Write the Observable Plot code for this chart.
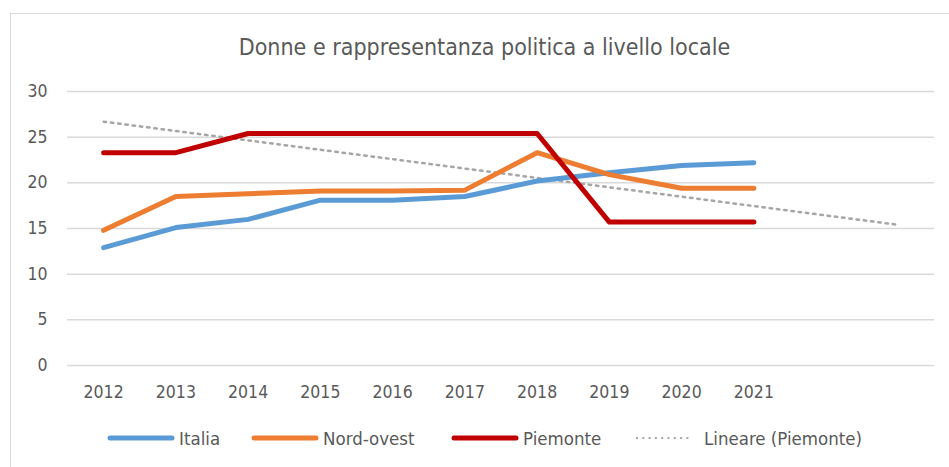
<!DOCTYPE html>
<html>
<head>
<meta charset="utf-8">
<script src="https://cdn.jsdelivr.net/npm/d3@7"></script>
<script src="https://cdn.jsdelivr.net/npm/@observablehq/plot@0.6"></script>
<style>
  html, body { margin: 0; padding: 0; background: #fff; }
  body { width: 949px; height: 467px; position: relative; overflow: hidden;
         font-family: "Liberation Sans Narrow", "DejaVu Sans Condensed", "Liberation Sans", sans-serif; color: #595959; }
  #frame { position: absolute; left: 10px; top: 13px; width: 960px; height: 480px;
           border-left: 1.5px solid #d9d9d9; border-top: 1.5px solid #d9d9d9; }
  #title { position: absolute; left: 10px; width: 949px; top: 33px; text-align: center;
           font-size: 23px; line-height: 28px; color: #595959; white-space: nowrap; }
  #chart { position: absolute; left: 0; top: 70px; }
  .leg { position: absolute; top: 428px; height: 20px; display: flex; align-items: center;
         font-size: 18.5px; color: #595959; }
  .leg svg { margin-right: 4px; }
</style>
</head>
<body>
<div id="frame"></div>
<div id="title">Donne e rappresentanza politica a livello locale</div>
<div id="chart"></div>
<div id="legend"></div>
<script>
const years = [2012, 2013, 2014, 2015, 2016, 2017, 2018, 2019, 2020, 2021];
const italia = [12.9, 15.1, 16.0, 18.1, 18.1, 18.5, 20.2, 21.1, 21.9, 22.2];
const nordOvest = [14.8, 18.5, 18.8, 19.1, 19.1, 19.2, 23.3, 20.9, 19.4, 19.4];
const piemonte = [23.3, 23.3, 25.4, 25.4, 25.4, 25.4, 25.4, 15.7, 15.7, 15.7];
const trendYears = [2012, 2023];
const trendValues = [26.7, 15.4];
const yTicks = [0, 5, 10, 15, 20, 25, 30];
const seriesNames = ["Italia", "Nord-ovest", "Piemonte"];
const seriesColors = ["#5B9BD5", "#ED7D31", "#C00000"];
const trendName = "Lineare (Piemonte)";

const seriesValues = [italia, nordOvest, piemonte];
const data = seriesNames.flatMap((name, i) =>
  years.map((year, j) => ({ series: name, year, value: seriesValues[i][j] })));
const trend = trendYears.map((year, i) => ({ year, value: trendValues[i] }));

const plot = Plot.plot({
  width: 949,
  height: 340,
  marginLeft: 67,
  marginRight: 15,
  marginTop: 21,
  marginBottom: 45,
  style: { fontFamily: '"Liberation Sans Narrow", "DejaVu Sans Condensed", "Liberation Sans", sans-serif', fontSize: "17.5px", color: "#595959", background: "transparent" },
  x: { domain: [2011.5, 2023.5], ticks: years, tickFormat: d => String(d), label: null },
  y: { domain: [0, 30], ticks: yTicks, label: null },
  color: { domain: seriesNames, range: seriesColors },
  marks: [
    Plot.gridY(yTicks, { stroke: "#d9d9d9", strokeOpacity: 1, strokeWidth: 1.5 }),
    Plot.axisY(yTicks, { tickSize: 0, tickPadding: 20, fontSize: 17.5, fill: "#595959", label: null }),
    Plot.axisX(years, { tickSize: 0, tickPadding: 20, fontSize: 17.5, fill: "#595959", tickFormat: d => String(d), label: null }),
    Plot.line(trend, { x: "year", y: "value", stroke: "#A6A6A6", strokeWidth: 2.5, strokeDasharray: "2.5,4.8" }),
    Plot.line(data, { x: "year", y: "value", z: "series", stroke: "series", strokeWidth: 5, strokeLinecap: "round", strokeLinejoin: "round" })
  ]
});
document.getElementById("chart").appendChild(plot);

// legend
const legend = document.getElementById("legend");
const legLefts = [107, 251, 451, 635];
seriesNames.forEach((name, i) => {
  const d = document.createElement("div");
  d.className = "leg";
  d.style.left = legLefts[i] + "px";
  d.innerHTML = `<svg width="68" height="10"><line x1="3" y1="5" x2="65" y2="5" stroke="${seriesColors[i]}" stroke-width="5" stroke-linecap="round"/></svg><span>${name}</span>`;
  legend.appendChild(d);
});
const t = document.createElement("div");
t.className = "leg";
t.style.left = legLefts[3] + "px";
t.innerHTML = `<svg width="66" height="10" style="margin-right:3px"><line x1="1" y1="5" x2="57" y2="5" stroke="#A6A6A6" stroke-width="2" stroke-dasharray="2,4.3"/></svg><span>${trendName}</span>`;
legend.appendChild(t);
</script>
</body>
</html>
